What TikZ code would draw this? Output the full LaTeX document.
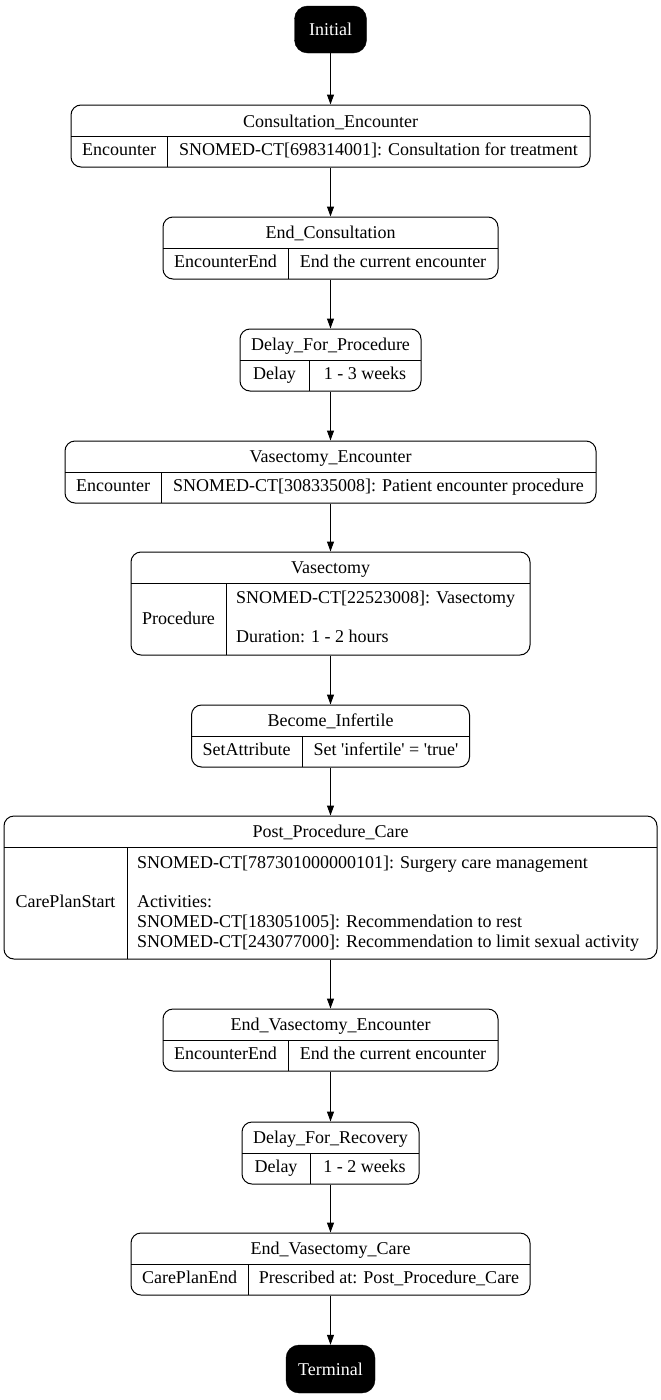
\documentclass[tikz,border=0pt]{standalone}
\usepackage{fontspec}
\setmainfont{Liberation Serif}
\usepackage{tikz}
\usetikzlibrary{arrows.meta,positioning}

\begin{document}
\begin{tikzpicture}
[x=1pt,y=-1pt,
 box/.style={draw=black,line width=1pt,rounded corners=10pt,inner sep=0pt,minimum height=62pt},
 term/.style={fill=black,draw=black,rounded corners=13pt,text=white,inner sep=0pt},
 txt/.style={inner sep=0pt,text height=12pt,text depth=4.5pt,font={\fontsize{18}{19.75}\selectfont}},
 mtxt/.style={inner sep=0pt,align=left,anchor=west,font={\fontsize{18}{19.75}\selectfont}},
 sep/.style={line width=1pt},
 edge/.style={line width=1pt,-{Triangle[length=10pt,width=7pt]}}]
\useasboundingbox (0,0) rectangle (661,1400);

% start and end
\node[term,minimum width=72pt,minimum height=47pt] (init) at (330.5,29.5) {};
\node[txt,text=white] (init-t) at (330.5,32) {Initial};
\node[term,minimum width=89pt,minimum height=48pt] (term) at (330.5,1369) {};
\node[txt,text=white] (term-t) at (330.5,1371.5) {Terminal};

% Consultation_Encounter
\node[box,minimum width=519pt] (consult) at (330.5,136) {};
\draw[sep] (71,136.5) -- (590,136.5);
\draw[sep] (167,136.5) -- (167,167);
\node[txt] (consult-t) at (330.5,123.5) {Consultation\_Encounter};
\node[txt] (consult-k) at (119,152) {Encounter};
\node[txt] (consult-v) at (378.5,152) {SNOMED-CT[698314001]: Consultation for treatment};

% End_Consultation
\node[box,minimum width=335pt] (endcons) at (330.5,248) {};
\draw[sep] (163,248) -- (498,248);
\draw[sep] (288,248) -- (288,279);
\node[txt] (endcons-t) at (330.5,235) {End\_Consultation};
\node[txt] (endcons-k) at (225.5,263.5) {EncounterEnd};
\node[txt] (endcons-v) at (393,263.5) {End the current encounter};

% Delay_For_Procedure
\node[box,minimum width=181pt] (delayproc) at (330.5,360) {};
\draw[sep] (240,360) -- (421,360);
\draw[sep] (309,360) -- (309,391);
\node[txt] (delayproc-t) at (330.5,347) {Delay\_For\_Procedure};
\node[txt] (delayproc-k) at (274.5,375.5) {Delay};
\node[txt] (delayproc-v) at (365,375.5) {1 - 3 weeks};

% Vasectomy_Encounter
\node[box,minimum width=531pt] (vasenc) at (330.5,472) {};
\draw[sep] (65,472) -- (596,472);
\draw[sep] (161,472) -- (161,503);
\node[txt] (vasenc-t) at (330.5,459) {Vasectomy\_Encounter};
\node[txt] (vasenc-k) at (113,487.5) {Encounter};
\node[txt] (vasenc-v) at (378.5,487.5) {SNOMED-CT[308335008]: Patient encounter procedure};

% Vasectomy
\node[box,minimum width=399pt,minimum height=103pt] (vas) at (330.5,603.5) {};
\draw[sep] (131,583) -- (530,583);
\draw[sep] (226,583) -- (226,655);
\node[txt] (vas-t) at (330.5,570) {Vasectomy};
\node[txt] (vas-k) at (178.5,621) {Procedure};
\node[mtxt] (vas-v) at (236,617)
  {SNOMED-CT[22523008]: Vasectomy\\[19.75pt]Duration: 1 - 2 hours};

% Become_Infertile
\node[box,minimum width=278pt] (infert) at (330.5,736) {};
\draw[sep] (191.5,736) -- (469.5,736);
\draw[sep] (302,736) -- (302,767);
\node[txt] (infert-t) at (330.5,723) {Become\_Infertile};
\node[txt] (infert-k) at (246.5,751.5) {SetAttribute};
\node[txt] (infert-v) at (386,751.5)
  {Set \textquotesingle infertile\textquotesingle{} = \textquotesingle true\textquotesingle};

% Post_Procedure_Care
\node[box,minimum width=653pt,minimum height=143pt] (postcare) at (330.5,887.5) {};
\draw[sep] (4,847) -- (657,847);
\draw[sep] (127,847) -- (127,959);
\node[txt] (postcare-t) at (330.5,834) {Post\_Procedure\_Care};
\node[txt] (postcare-k) at (65.5,903.5) {CarePlanStart};
\node[mtxt] (postcare-v) at (137,903.5)
  {SNOMED-CT[787301000000101]: Surgery care management\\[19.75pt]Activities:\\
   SNOMED-CT[183051005]: Recommendation to rest\\
   SNOMED-CT[243077000]: Recommendation to limit sexual activity};

% End_Vasectomy_Encounter
\node[box,minimum width=335pt] (endvasenc) at (330.5,1040) {};
\draw[sep] (163,1040) -- (498,1040);
\draw[sep] (288,1040) -- (288,1071);
\node[txt] (endvasenc-t) at (330.5,1027) {End\_Vasectomy\_Encounter};
\node[txt] (endvasenc-k) at (225.5,1055.5) {EncounterEnd};
\node[txt] (endvasenc-v) at (393,1055.5) {End the current encounter};

% Delay_For_Recovery
\node[box,minimum width=177pt] (delayrec) at (330.5,1153) {};
\draw[sep] (242,1153) -- (419,1153);
\draw[sep] (310,1153) -- (310,1184);
\node[txt] (delayrec-t) at (330.5,1140) {Delay\_For\_Recovery};
\node[txt] (delayrec-k) at (276,1168.5) {Delay};
\node[txt] (delayrec-v) at (364.5,1168.5) {1 - 2 weeks};

% End_Vasectomy_Care
\node[box,minimum width=399pt] (endcare) at (330.5,1264) {};
\draw[sep] (131,1264) -- (530,1264);
\draw[sep] (248,1264) -- (248,1295);
\node[txt] (endcare-t) at (330.5,1251) {End\_Vasectomy\_Care};
\node[txt] (endcare-k) at (189.5,1279.5) {CarePlanEnd};
\node[txt] (endcare-v) at (389,1279.5) {Prescribed at: Post\_Procedure\_Care};

\draw[edge] (init) -- (consult);
\draw[edge] (consult) -- (endcons);
\draw[edge] (endcons) -- (delayproc);
\draw[edge] (delayproc) -- (vasenc);
\draw[edge] (vasenc) -- (vas);
\draw[edge] (vas) -- (infert);
\draw[edge] (infert) -- (postcare);
\draw[edge] (postcare) -- (endvasenc);
\draw[edge] (endvasenc) -- (delayrec);
\draw[edge] (delayrec) -- (endcare);
\draw[edge] (endcare) -- (term);
\end{tikzpicture}
\end{document}
